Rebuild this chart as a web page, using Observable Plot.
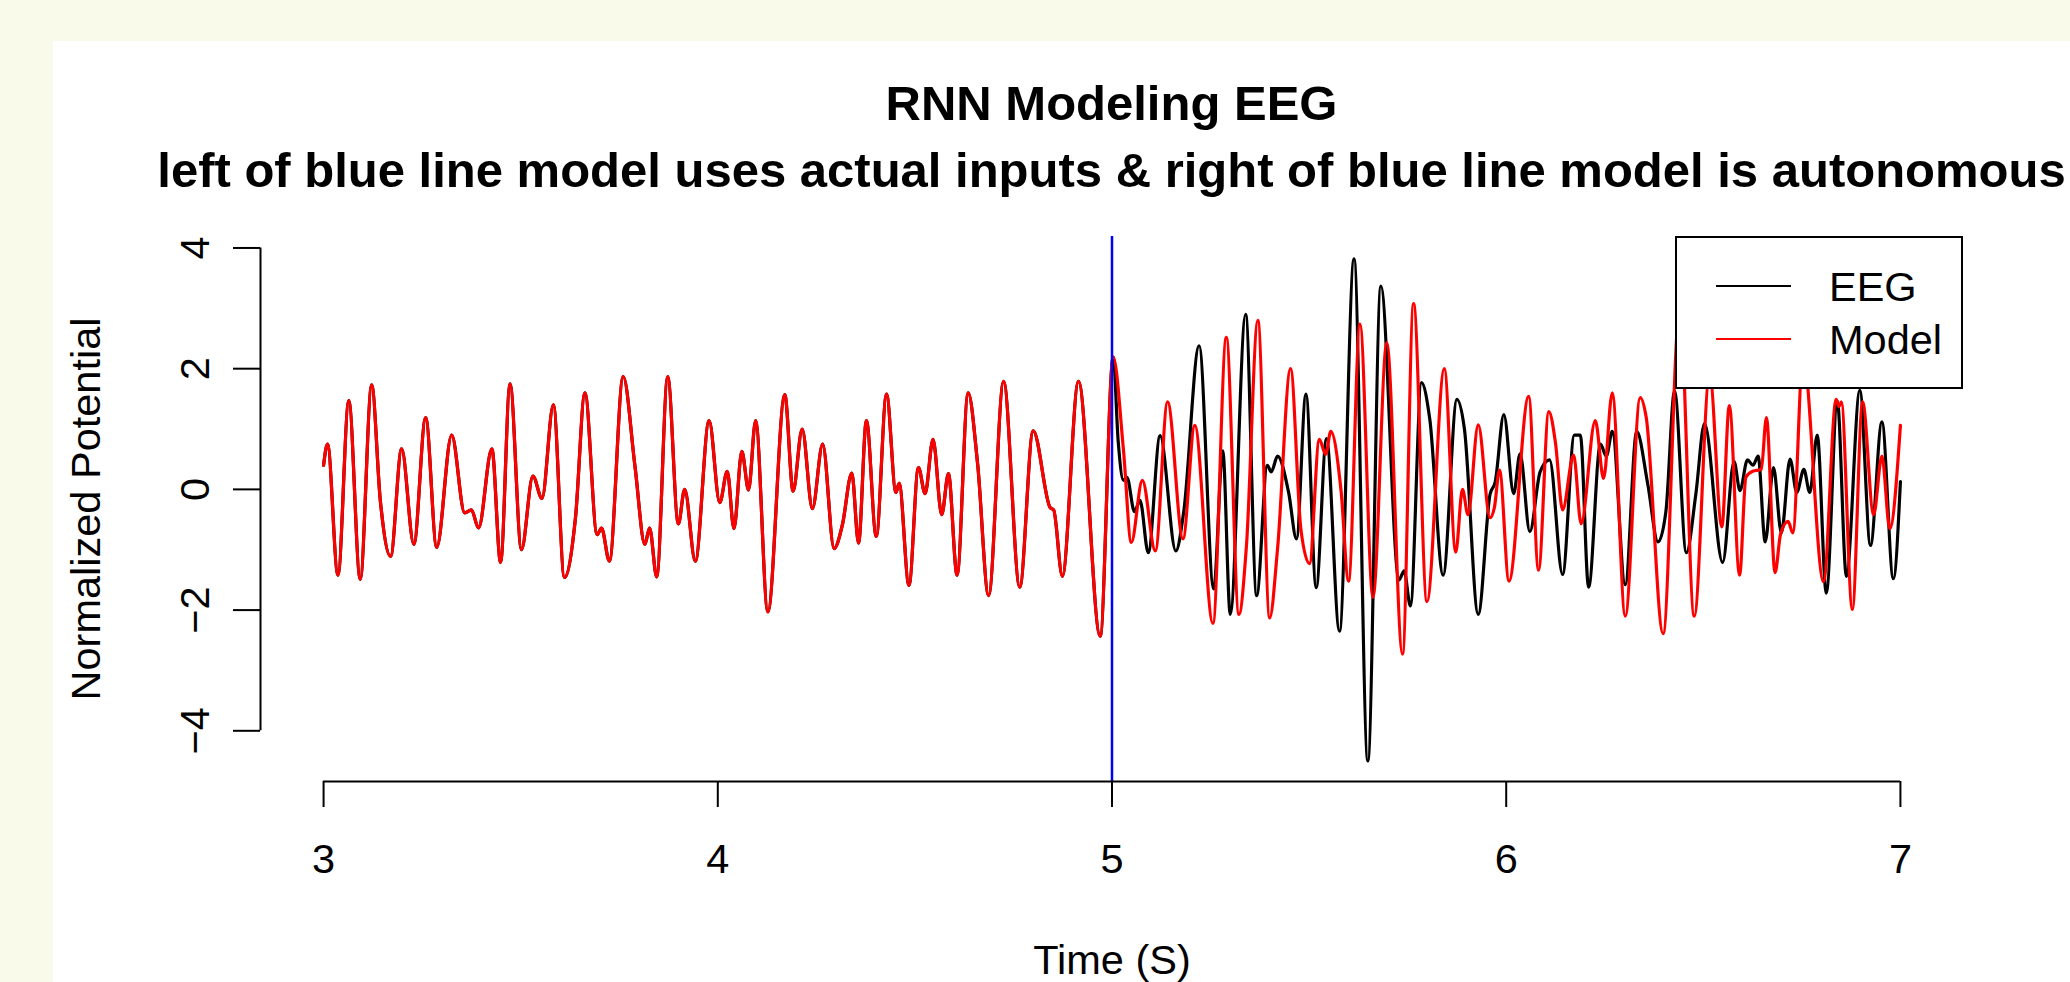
<!DOCTYPE html>
<html>
<head>
<meta charset="utf-8">
<script src="https://cdn.jsdelivr.net/npm/d3@7"></script>
<script src="https://cdn.jsdelivr.net/npm/@observablehq/plot@0.6"></script>
<style>
  html, body { margin: 0; padding: 0; }
  body { width: 2070px; height: 982px; background: #fafaea; position: relative; overflow: hidden;
         font-family: "Liberation Sans", Arial, Helvetica, sans-serif; }
  #panel { position: absolute; left: 53px; top: 41px; right: 0; bottom: 0; background: #fff; }
  #chart { position: absolute; left: 0; top: 0; }
  .title { position: absolute; left: 0; width: 2223px; text-align: center; font-weight: bold;
           font-size: 49px; line-height: 1; white-space: nowrap; color: #000; }
  #legend { position: absolute; left: 1675px; top: 236px; width: 288px; height: 153px;
            box-sizing: border-box; border: 2px solid #000; background: #fff; }
  #legend .sw { position: absolute; left: 39px; width: 75px; height: 0; border-top: 2px solid #000; }
  #legend .lab { position: absolute; left: 152px; font-size: 41.5px; line-height: 1; white-space: nowrap; }
</style>
</head>
<body>
<div id="panel"></div>
<div id="chart"></div>
<div class="title" id="t1" style="top:79px"></div>
<div class="title" id="t2" style="top:146px"></div>
<div id="legend"></div>
<script>
// ---- data ----
const titleMain = "RNN Modeling EEG";
const titleSub = "left of blue line model uses actual inputs & right of blue line model is autonomous";
const xLabel = "Time (S)";
const yLabel = "Normalized Potential";
const xTicks = [3, 4, 5, 6, 7];
const yTicks = [-4, -2, 0, 2, 4];
const switchTime = [5];
const seriesNames = ["EEG", "Model"];
const seriesColors = ["#000000", "#ff0000"];

// shared part (model driven by actual inputs, both curves overlap), t < 5
const preTime = [3.000,3.010,3.0365,3.064,3.093,3.122,3.144,3.170,3.198,3.229,3.259,3.287,3.325,3.358,3.375,3.393,3.427,3.449,
  3.473,3.502,3.531,3.554,3.583,3.611,3.639,3.663,3.694,3.705,3.725,3.760,3.790,3.815,3.827,3.845,3.873,3.900,
  3.916,3.943,3.978,4.005,4.024,4.041,4.061,4.078,4.096,4.127,4.170,4.191,4.214,4.240,4.266,4.295,4.316,4.340,4.357,
  4.377,4.402,4.428,4.452,4.460,4.485,4.509,4.526,4.546,4.568,4.585,4.607,4.635,4.659,4.687,4.725,4.766,4.800,
  4.843,4.852,4.874,4.915,4.970,5.003];
const preValue = [0.40,0.75,-1.42,1.47,-1.49,1.73,-0.19,-1.11,0.67,-0.91,1.19,-0.96,0.90,-0.39,-0.34,-0.64,0.67,-1.21,
  1.75,-1.00,0.22,-0.15,1.40,-1.46,-0.47,1.60,-0.75,-0.64,-1.19,1.87,0.38,-0.91,-0.64,-1.45,1.87,-0.57,
  0.00,-1.19,1.14,-0.22,0.30,-0.65,0.63,-0.01,1.14,-2.03,1.57,-0.03,1.00,-0.32,0.75,-0.98,-0.59,0.27,-0.89,
  1.14,-0.78,1.58,-0.05,0.10,-1.59,0.36,-0.07,0.83,-0.42,0.26,-1.42,1.60,0.43,-1.76,1.79,-1.62,0.97,
  -0.30,-0.34,-1.44,1.79,-2.43,2.19];

// EEG after the blue line
const eegTime = [5.016,5.029,5.038,5.057,5.071,5.092,5.122,5.162,5.182,5.221,5.258,5.281,5.300,5.339,5.367,5.394,5.404,5.420,
  5.448,5.468,5.492,5.518,5.544,5.577,5.614,5.649,5.682,5.728,5.741,5.757,5.785,5.806,5.840,5.875,5.894,5.929,
  5.959,5.972,5.994,6.019,6.035,6.060,6.086,6.110,6.143,6.173,6.188,6.209,6.239,6.254,6.269,6.302,6.331,6.359,
  6.385,6.405,6.427,6.457,6.481,6.503,6.549,6.578,6.593,6.612,6.626,6.639,6.657,6.678,6.698,6.720,6.737,6.755,
  6.770,6.789,6.812,6.840,6.863,6.897,6.924,6.953,6.982,7.000];
const eegValue = [0.77,0.15,0.20,-0.37,-0.18,-1.05,0.89,-1.02,-0.37,2.38,-1.65,0.64,-2.07,2.90,-1.76,0.40,0.29,0.55,
  -0.05,-0.82,1.58,-1.63,0.84,-2.35,3.82,-4.50,3.37,-1.50,-1.35,-1.93,1.77,1.17,-1.42,1.49,1.00,-2.07,
  -0.08,0.12,1.24,-0.07,0.59,-0.70,0.29,0.49,-1.41,0.90,0.90,-1.62,0.75,0.55,0.96,-1.58,0.96,0.09,
  -0.87,-0.37,1.63,-1.05,-0.08,1.09,-1.21,0.46,-0.02,0.49,0.40,0.55,-0.87,0.36,-0.72,0.50,-0.05,0.33,
  -0.05,0.90,-1.72,1.46,-1.44,1.64,-0.93,1.12,-1.48,0.13];

// Model running autonomously after the blue line
const modelTime = [5.029,5.049,5.077,5.110,5.141,5.180,5.210,5.256,5.290,5.322,5.341,5.370,5.400,5.420,5.453,5.479,5.501,
  5.526,5.542,5.555,5.581,5.600,5.629,5.662,5.697,5.737,5.765,5.799,5.843,5.872,5.889,5.903,5.929,5.959,5.970,5.983,
  6.007,6.057,6.082,6.108,6.125,6.143,6.171,6.190,6.226,6.247,6.269,6.302,6.340,6.355,6.398,6.440,6.477,6.516,
  6.547,6.566,6.592,6.608,6.625,6.647,6.660,6.682,6.696,6.715,6.727,6.753,6.805,6.837,6.844,6.850,6.878,6.904,
  6.932,6.953,6.973,7.000];
const modelValue = [0.66,-0.88,0.15,-1.02,1.45,-0.82,1.06,-2.22,2.52,-2.07,-0.94,2.80,-2.13,-0.98,2.00,-0.65,-1.23,
  0.83,0.58,0.96,-0.02,-1.52,2.74,-1.79,2.43,-2.73,3.08,-1.86,2.00,-1.04,0.00,-0.42,1.07,-0.47,-0.30,0.32,
  -1.52,1.54,-1.34,1.29,0.77,-0.34,0.57,-0.57,1.14,0.18,1.60,-2.10,1.52,1.20,-2.39,3.00,-2.10,1.90,
  -0.62,1.39,-1.42,0.20,0.30,0.33,1.19,-1.38,-0.74,-0.53,-0.72,2.20,-1.53,1.49,1.37,1.45,-1.99,1.45,
  -0.42,0.55,-0.65,1.06];

// ---- build tables ----
const pre = preTime.map((t, i) => ({t, v: preValue[i]}));
const eeg = pre.concat(eegTime.map((t, i) => ({t, v: eegValue[i]})));
const model = pre.concat(modelTime.map((t, i) => ({t, v: modelValue[i]})));

const xDomain = [2.84, 7.16];
const yDomain = [-4.84, 4.19];
const fs = 41.5;
const fmt = d => (d < 0 ? "\u2212" : "") + Math.abs(d);

const chart = Plot.plot({
  width: 2070,
  height: 982,
  marginLeft: 260,
  marginRight: 107,
  marginTop: 236,
  marginBottom: 201,
  style: {background: "transparent", fontFamily: "'Liberation Sans', Arial, Helvetica, sans-serif", fontSize: fs + "px", color: "#000"},
  x: {domain: xDomain},
  y: {domain: yDomain},
  marks: [
    Plot.line(eeg, {x: "t", y: "v", stroke: seriesColors[0], strokeWidth: 3.2, curve: "monotone-x"}),
    Plot.line(model, {x: "t", y: "v", stroke: seriesColors[1], strokeWidth: 3.2, curve: "monotone-x"}),
    Plot.ruleX(switchTime, {stroke: "#0000ff", strokeWidth: 2.5}),
    Plot.ruleY([yDomain[0]], {x1: d3.min(xTicks), x2: d3.max(xTicks), stroke: "#000", strokeWidth: 2}),
    Plot.ruleX([xDomain[0]], {y1: d3.min(yTicks), y2: d3.max(yTicks), stroke: "#000", strokeWidth: 2}),
    Plot.axisX(xTicks, {anchor: "bottom", tickSize: 26, tickPadding: 36, strokeWidth: 2, fontSize: fs, label: null, tickFormat: fmt}),
    Plot.axisY(yTicks, {anchor: "left", tickSize: 27, tickPadding: 25, tickRotate: -90, strokeWidth: 2, fontSize: fs, label: null, tickFormat: fmt}),
    Plot.text([xLabel], {frameAnchor: "bottom", lineAnchor: "top", textAnchor: "middle", dy: 163, fontSize: fs, fill: "#000"}),
    Plot.text([yLabel], {frameAnchor: "left", lineAnchor: "bottom", textAnchor: "middle", rotate: -90, dx: -160.6, fontSize: fs, fill: "#000"})
  ]
});
document.getElementById("chart").appendChild(chart);

document.getElementById("t1").textContent = titleMain;
document.getElementById("t2").textContent = titleSub;

const legend = d3.select("#legend");
const rowTop = [47, 100];
seriesNames.forEach((name, i) => {
  legend.append("div").attr("class", "sw").style("top", rowTop[i] + "px").style("border-top-color", seriesColors[i]);
  legend.append("div").attr("class", "lab").style("top", (rowTop[i] - 19) + "px").text(name);
});
</script>
</body>
</html>
